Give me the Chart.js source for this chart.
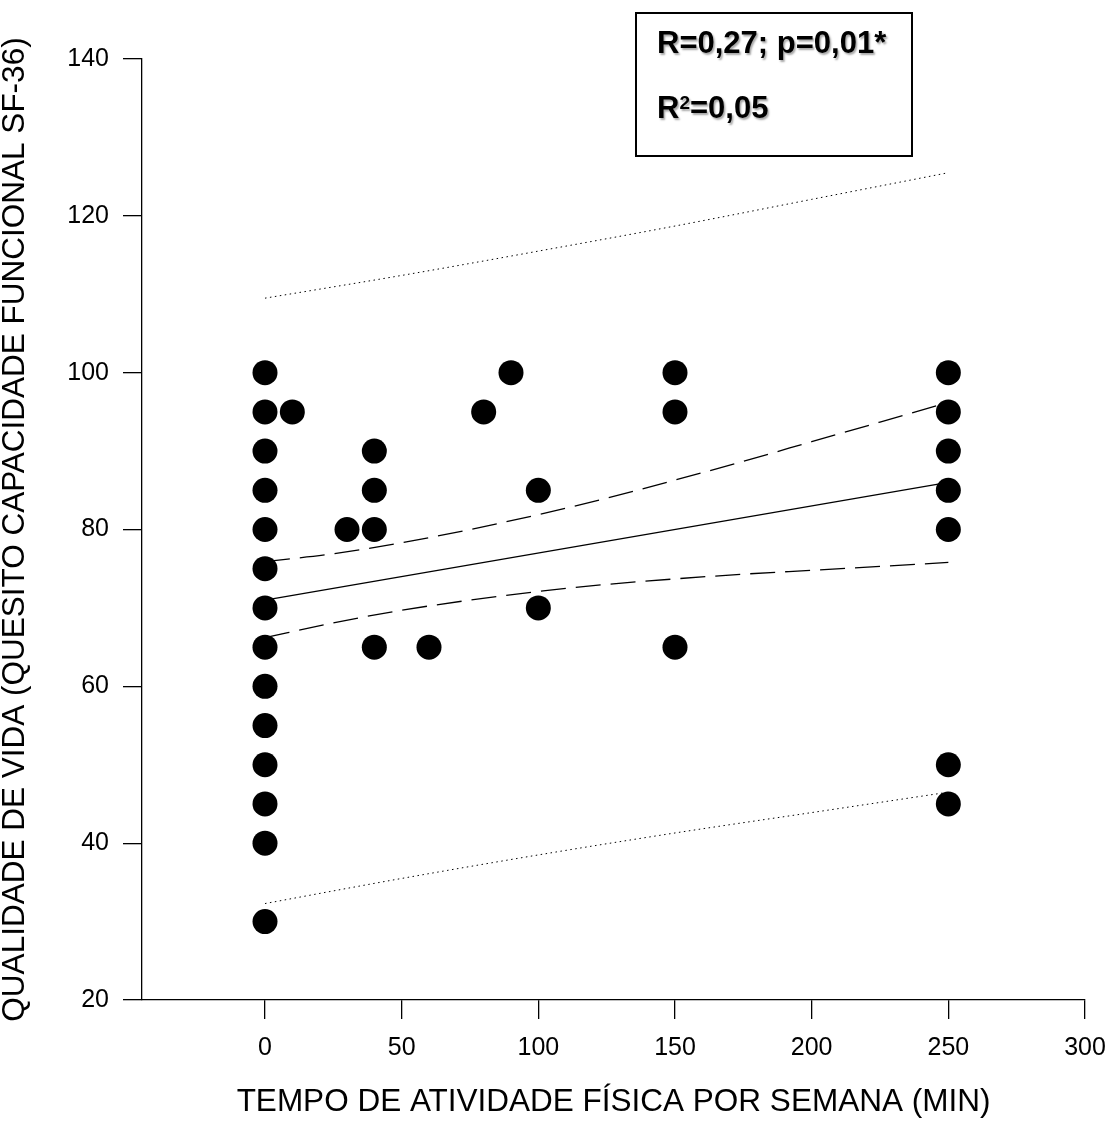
<!DOCTYPE html>
<html>
<head>
<meta charset="utf-8">
<script src="https://cdn.jsdelivr.net/npm/chart.js@4.4.1/dist/chart.umd.min.js"></script>
<style>
  html, body { margin: 0; padding: 0; background: #fff; }
  canvas { display: block; }
</style>
</head>
<body>
<canvas id="grafico" width="1113" height="1122"></canvas>
<script>
// dados
const tempoMin = [0, 0, 0, 0, 0, 0, 0, 0, 0, 0, 0, 0, 0, 0,
                  10, 30, 40, 40, 40, 40, 60, 80, 90, 100, 100,
                  150, 150, 150, 250, 250, 250, 250, 250, 250, 250];
const qualidade = [100, 95, 90, 85, 80, 75, 70, 65, 60, 55, 50, 45, 40, 30,
                   95, 80, 90, 85, 80, 65, 65, 95, 100, 85, 70,
                   100, 95, 65, 100, 95, 90, 85, 80, 50, 45];

// reta de regressão
const retaX = [0, 250];
const retaY = [71, 86];

// intervalo de confiança (tracejado)
const icX = [0, 25, 50, 75, 100, 125, 150, 175, 200, 225, 250];
const icSup = [75.9, 76.9, 78.3, 80.0, 81.9, 84.0, 86.3, 88.7, 91.2, 93.7, 96.2];
const icInf = [66.2, 68.1, 69.7, 71.0, 72.1, 73.0, 73.7, 74.3, 74.8, 75.3, 75.8];

// intervalo de predição (pontilhado)
const ipX = [0, 50, 100, 150, 200, 250];
const ipSup = [109.5, 112.4, 115.5, 118.7, 122.1, 125.5];
const ipInf = [32.3, 35.5, 38.5, 41.3, 43.9, 46.5];

const ticksX = [0, 50, 100, 150, 200, 250, 300];
const ticksY = [20, 40, 60, 80, 100, 120, 140];

const pares = (xs, ys) => xs.map((x, i) => ({ x: x, y: ys[i] }));
const fonte = "'Liberation Sans', Arial, sans-serif";

// caixa com o resultado da correlação
const caixaTexto = {
    id: 'caixaTexto',
    afterDraw(chart) {
        const ctx = chart.ctx;
        const a = chart.chartArea;
        const x0 = a.left + 494, y0 = a.top - 46;
        ctx.save();
        ctx.strokeStyle = '#000';
        ctx.lineWidth = 2;
        ctx.strokeRect(x0, y0, 276, 143);
        ctx.fillStyle = '#000';
        ctx.shadowColor = 'rgba(0,0,0,0.35)';
        ctx.shadowOffsetX = 1.5;
        ctx.shadowOffsetY = 1.5;
        ctx.shadowBlur = 2;
        ctx.textBaseline = 'alphabetic';
        ctx.font = 'bold 31px ' + fonte;
        ctx.fillText('R=0,27; p=0,01*', x0 + 21, y0 + 40);
        ctx.fillText('R', x0 + 21, y0 + 105);
        let w = ctx.measureText('R').width;
        ctx.font = 'bold 19px ' + fonte;
        ctx.fillText('2', x0 + 21 + w, y0 + 96);
        let w2 = ctx.measureText('2').width;
        ctx.font = 'bold 31px ' + fonte;
        ctx.fillText('=0,05', x0 + 21 + w + w2, y0 + 105);
        ctx.restore();
    }
};

new Chart(document.getElementById('grafico'), {
    type: 'scatter',
    data: {
        datasets: [
            { data: pares(tempoMin, qualidade), pointRadius: 12.5, pointHoverRadius: 12.5,
              backgroundColor: '#000', borderWidth: 0 },
            { data: pares(retaX, retaY), showLine: true, pointRadius: 0,
              borderColor: '#000', borderWidth: 1.3 },
            { data: pares(icX, icSup), showLine: true, pointRadius: 0, cubicInterpolationMode: 'monotone',
              borderColor: '#000', borderWidth: 1.3, borderDash: [25, 10] },
            { data: pares(icX, icInf), showLine: true, pointRadius: 0, cubicInterpolationMode: 'monotone',
              borderColor: '#000', borderWidth: 1.3, borderDash: [25, 10] },
            { data: pares(ipX, ipSup), showLine: true, pointRadius: 0, cubicInterpolationMode: 'monotone',
              borderColor: '#000', borderWidth: 1, borderDash: [1.5, 3.5] },
            { data: pares(ipX, ipInf), showLine: true, pointRadius: 0, cubicInterpolationMode: 'monotone',
              borderColor: '#000', borderWidth: 1, borderDash: [1.5, 3.5] }
        ]
    },
    options: {
        responsive: false,
        animation: false,
        layout: { padding: { top: 59, right: 28, left: 0, bottom: 0 } },
        plugins: { legend: { display: false }, tooltip: { enabled: false } },
        scales: {
            x: {
                type: 'linear', min: -45, max: 300,
                afterFit: s => { s.height = 122; s.paddingRight = 0; s.paddingLeft = 0; },
                afterBuildTicks: s => { s.ticks = ticksX.map(v => ({ value: v })); },
                grid: { drawOnChartArea: false, drawTicks: true, tickLength: 19, color: '#000', lineWidth: 1.3 },
                border: { color: '#000', width: 1.3 },
                ticks: { color: '#000', padding: 14, font: { family: fonte, size: 25 } },
                title: { display: true, text: 'TEMPO DE ATIVIDADE FÍSICA POR SEMANA (MIN)', color: '#000',
                         font: { family: fonte, size: 31.5, lineHeight: 1 }, padding: { top: 0, bottom: 4 } }
            },
            y: {
                type: 'linear', min: 20, max: 140,
                afterFit: s => { s.width = 142; s.paddingTop = 0; s.paddingBottom = 0; },
                afterBuildTicks: s => { s.ticks = ticksY.map(v => ({ value: v })); },
                grid: { drawOnChartArea: false, drawTicks: true, tickLength: 19, color: '#000', lineWidth: 1.3 },
                border: { color: '#000', width: 1.3 },
                ticks: { color: '#000', padding: 14, font: { family: fonte, size: 25 } },
                title: { display: true, text: 'QUALIDADE DE VIDA (QUESITO CAPACIDADE FUNCIONAL SF-36)', color: '#000',
                         font: { family: fonte, size: 31.5, lineHeight: 1 }, padding: { top: 0, bottom: 0 } }
            }
        }
    },
    plugins: [caixaTexto]
});
</script>
</body>
</html>
